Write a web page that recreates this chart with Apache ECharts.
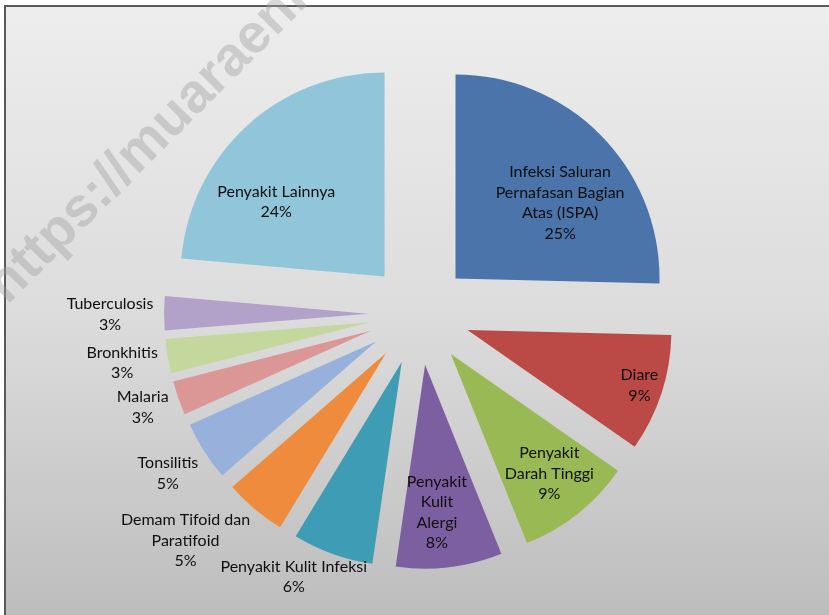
<!DOCTYPE html>
<html>
<head>
<meta charset="utf-8">
<script src="https://cdn.jsdelivr.net/npm/echarts@6/dist/echarts.min.js"></script>
<style>
html,body{margin:0;padding:0;background:#fff;}
#chart{width:829px;height:615px;}
</style>
</head>
<body>
<div id="chart"></div>
<script>
// ---- data ----
const categories = [
  'Infeksi Saluran\nPernafasan Bagian\nAtas (ISPA)',
  'Diare',
  'Penyakit\nDarah Tinggi',
  'Penyakit\nKulit\nAlergi',
  'Penyakit Kulit Infeksi',
  'Demam Tifoid dan\nParatifoid',
  'Tonsilitis',
  'Malaria',
  'Bronkhitis',
  'Tuberculosis',
  'Penyakit Lainnya'
];
const values = [25.4, 9.3, 9.2, 8.4, 6.4, 4.9, 4.7, 2.7, 2.7, 2.7, 23.6];
const colors = ['#4A74AA', '#BB4A47', '#98B954', '#7C5FA0', '#3E9CB4', '#EE8B3C', '#97B0DC', '#DB9795', '#C4D79D', '#B2A1C8', '#91C6DA'];

// ---- layout / style ----
const CX = 419, CY = 314, R = 204, EXPLODE = 51;
// label placement: distance from pie centre (px) and angular nudge (deg) per slice
const labelDist = [179, 232, 207, 200, 292, 326, 298, 292, 301, 309, 181];
const labelTurn = [6.3, 0, -0.5, 1.7, 5.6, 5.6, 0, 0.4, 0, -0.4, -9.6];

const total = values.reduce((a, b) => a + b, 0);
const midAngle = [];
let acc = 0;
values.forEach(v => { const span = v / total * 360; midAngle.push(acc + span / 2); acc += span; });

// percentages rounded with the largest-remainder rule (as the pie does)
function roundedPercents(vals) {
  const raw = vals.map(v => v / total * 100);
  const fl = raw.map(Math.floor);
  let left = 100 - fl.reduce((a, b) => a + b, 0);
  const order = raw.map((r, i) => [r - fl[i], i]).sort((a, b) => b[0] - a[0]);
  for (let k = 0; k < left; k++) fl[order[k][1]] += 1;
  return fl;
}
const pct = roundedPercents(values);

const labelGraphics = categories.map((c, i) => {
  const a = (midAngle[i] + labelTurn[i]) * Math.PI / 180;
  return {
    type: 'text', z: 5, silent: true,
    style: {
      text: c + '\n' + pct[i] + '%',
      x: CX + labelDist[i] * Math.sin(a),
      y: CY - 1 - labelDist[i] * Math.cos(a),
      align: 'center',
      verticalAlign: 'middle',
      font: '16px Lato, "Open Sans", sans-serif',
      lineHeight: 20.5,
      fill: '#0f0f0f'
    }
  };
});

const chart = echarts.init(document.getElementById('chart'), null, {renderer: 'canvas'});
const option = {
  animation: false,
  backgroundColor: '#ffffff',
  graphic: [
    {
      type: 'rect', z: -10, silent: true,
      shape: {x: 5, y: 6, width: 840, height: 620},
      style: {
        fill: new echarts.graphic.LinearGradient(0, 0, 0, 1, [
          {offset: 0, color: '#ededed'},
          {offset: 0.5, color: '#dcdcdc'},
          {offset: 1, color: '#bcbcbc'}
        ]),
        stroke: '#5a5a5a', lineWidth: 2
      }
    },
    {
      type: 'text', z: 1, silent: true,
      x: 16, y: 314, rotation: Math.PI / 4,
      style: {
        text: 'https://muaraenimkab.go.id',
        font: 'bold 55px "Liberation Sans", Arial, sans-serif',
        fill: 'rgba(160,160,160,0.42)',
        verticalAlign: 'bottom'
      }
    }
  ].concat(labelGraphics),
  series: [{
    type: 'pie',
    z: 2,
    center: [CX, CY],
    radius: [0, R],
    startAngle: 90,
    clockwise: true,
    selectedMode: 'multiple',
    selectedOffset: EXPLODE,
    avoidLabelOverlap: false,
    itemStyle: {borderWidth: 0},
    emphasis: {disabled: true, scale: false},
    select: {itemStyle: {borderWidth: 0}},
    label: {show: false},
    labelLine: {show: false},
    data: categories.map((c, i) => ({
      name: c,
      value: values[i],
      selected: true,
      itemStyle: {color: colors[i]}
    }))
  }]
};
chart.setOption(option);
</script>
</body>
</html>
